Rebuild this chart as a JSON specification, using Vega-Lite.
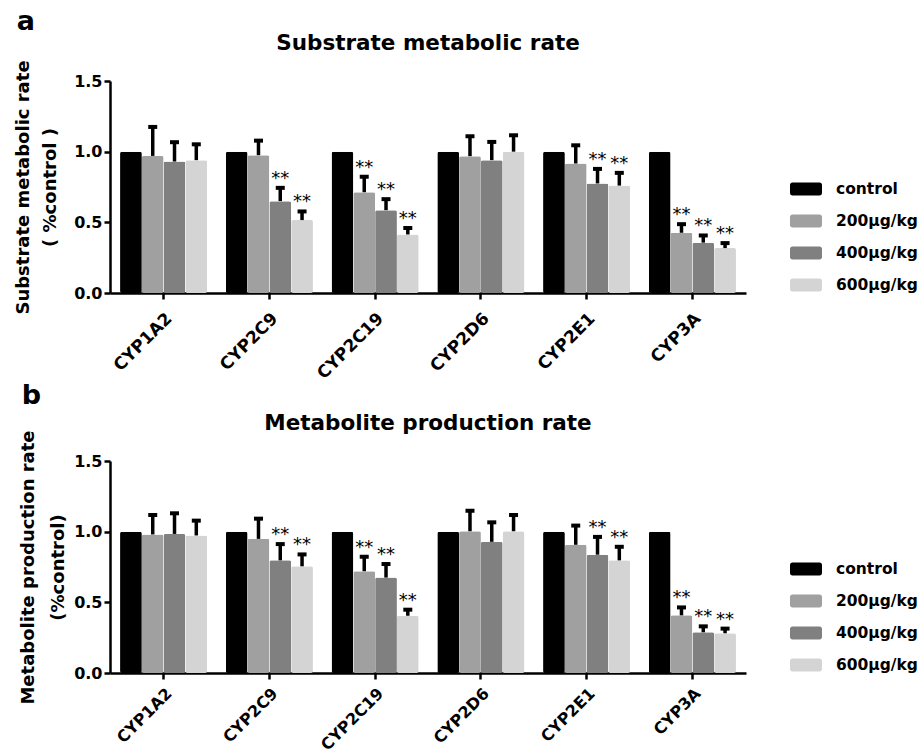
{
  "$schema": "https://vega.github.io/schema/vega-lite/v6.json",
  "background": "white",
  "padding": {"left": 14, "top": 8, "right": 2, "bottom": 0},
  "config": {
    "font": "DejaVu Sans",
    "view": {"stroke": null},
    "axis": {"grid": false, "domainColor": "black", "domainWidth": 2.5, "tickColor": "black", "tickWidth": 2.5, "tickSize": 6, "labelFont": "DejaVu Sans", "labelFontWeight": "bold", "labelFontSize": 16, "labelColor": "black", "titleFont": "DejaVu Sans", "titleFontWeight": "bold", "titleFontSize": 18, "titleColor": "black"},
    "legend": {"labelFont": "DejaVu Sans", "labelFontWeight": "bold", "labelFontSize": 15.5, "labelColor": "black", "padding": 0}
  },
  "datasets": {
    "a": [
      {"cyp": "CYP1A2", "group": "control", "mean": 1.0, "upper": null, "sig": ""},
      {"cyp": "CYP1A2", "group": "200µg/kg", "mean": 0.97, "upper": 1.175, "sig": ""},
      {"cyp": "CYP1A2", "group": "400µg/kg", "mean": 0.93, "upper": 1.067, "sig": ""},
      {"cyp": "CYP1A2", "group": "600µg/kg", "mean": 0.94, "upper": 1.052, "sig": ""},
      {"cyp": "CYP2C9", "group": "control", "mean": 1.0, "upper": null, "sig": ""},
      {"cyp": "CYP2C9", "group": "200µg/kg", "mean": 0.975, "upper": 1.078, "sig": ""},
      {"cyp": "CYP2C9", "group": "400µg/kg", "mean": 0.65, "upper": 0.744, "sig": "**"},
      {"cyp": "CYP2C9", "group": "600µg/kg", "mean": 0.516, "upper": 0.577, "sig": "**"},
      {"cyp": "CYP2C19", "group": "control", "mean": 1.0, "upper": null, "sig": ""},
      {"cyp": "CYP2C19", "group": "200µg/kg", "mean": 0.713, "upper": 0.822, "sig": "**"},
      {"cyp": "CYP2C19", "group": "400µg/kg", "mean": 0.586, "upper": 0.664, "sig": "**"},
      {"cyp": "CYP2C19", "group": "600µg/kg", "mean": 0.414, "upper": 0.46, "sig": "**"},
      {"cyp": "CYP2D6", "group": "control", "mean": 1.0, "upper": null, "sig": ""},
      {"cyp": "CYP2D6", "group": "200µg/kg", "mean": 0.968, "upper": 1.109, "sig": ""},
      {"cyp": "CYP2D6", "group": "400µg/kg", "mean": 0.94, "upper": 1.069, "sig": ""},
      {"cyp": "CYP2D6", "group": "600µg/kg", "mean": 1.0, "upper": 1.116, "sig": ""},
      {"cyp": "CYP2E1", "group": "control", "mean": 1.0, "upper": null, "sig": ""},
      {"cyp": "CYP2E1", "group": "200µg/kg", "mean": 0.916, "upper": 1.045, "sig": ""},
      {"cyp": "CYP2E1", "group": "400µg/kg", "mean": 0.775, "upper": 0.878, "sig": "**"},
      {"cyp": "CYP2E1", "group": "600µg/kg", "mean": 0.76, "upper": 0.85, "sig": "**"},
      {"cyp": "CYP3A", "group": "control", "mean": 1.0, "upper": null, "sig": ""},
      {"cyp": "CYP3A", "group": "200µg/kg", "mean": 0.426, "upper": 0.487, "sig": "**"},
      {"cyp": "CYP3A", "group": "400µg/kg", "mean": 0.356, "upper": 0.407, "sig": "**"},
      {"cyp": "CYP3A", "group": "600µg/kg", "mean": 0.318, "upper": 0.353, "sig": "**"}
    ],
    "b": [
      {"cyp": "CYP1A2", "group": "control", "mean": 1.0, "upper": null, "sig": ""},
      {"cyp": "CYP1A2", "group": "200µg/kg", "mean": 0.98, "upper": 1.118, "sig": ""},
      {"cyp": "CYP1A2", "group": "400µg/kg", "mean": 0.984, "upper": 1.13, "sig": ""},
      {"cyp": "CYP1A2", "group": "600µg/kg", "mean": 0.973, "upper": 1.078, "sig": ""},
      {"cyp": "CYP2C9", "group": "control", "mean": 1.0, "upper": null, "sig": ""},
      {"cyp": "CYP2C9", "group": "200µg/kg", "mean": 0.949, "upper": 1.092, "sig": ""},
      {"cyp": "CYP2C9", "group": "400µg/kg", "mean": 0.797, "upper": 0.912, "sig": "**"},
      {"cyp": "CYP2C9", "group": "600µg/kg", "mean": 0.755, "upper": 0.839, "sig": "**"},
      {"cyp": "CYP2C19", "group": "control", "mean": 1.0, "upper": null, "sig": ""},
      {"cyp": "CYP2C19", "group": "200µg/kg", "mean": 0.72, "upper": 0.823, "sig": "**"},
      {"cyp": "CYP2C19", "group": "400µg/kg", "mean": 0.675, "upper": 0.771, "sig": "**"},
      {"cyp": "CYP2C19", "group": "600µg/kg", "mean": 0.405, "upper": 0.448, "sig": "**"},
      {"cyp": "CYP2D6", "group": "control", "mean": 1.0, "upper": null, "sig": ""},
      {"cyp": "CYP2D6", "group": "200µg/kg", "mean": 1.003, "upper": 1.148, "sig": ""},
      {"cyp": "CYP2D6", "group": "400µg/kg", "mean": 0.928, "upper": 1.066, "sig": ""},
      {"cyp": "CYP2D6", "group": "600µg/kg", "mean": 1.003, "upper": 1.118, "sig": ""},
      {"cyp": "CYP2E1", "group": "control", "mean": 1.0, "upper": null, "sig": ""},
      {"cyp": "CYP2E1", "group": "200µg/kg", "mean": 0.907, "upper": 1.043, "sig": ""},
      {"cyp": "CYP2E1", "group": "400µg/kg", "mean": 0.837, "upper": 0.963, "sig": "**"},
      {"cyp": "CYP2E1", "group": "600µg/kg", "mean": 0.797, "upper": 0.893, "sig": "**"},
      {"cyp": "CYP3A", "group": "control", "mean": 1.0, "upper": null, "sig": ""},
      {"cyp": "CYP3A", "group": "200µg/kg", "mean": 0.408, "upper": 0.464, "sig": "**"},
      {"cyp": "CYP3A", "group": "400µg/kg", "mean": 0.288, "upper": 0.33, "sig": "**"},
      {"cyp": "CYP3A", "group": "600µg/kg", "mean": 0.281, "upper": 0.314, "sig": "**"}
    ]
  },
  "spacing": 0,
  "resolve": {"scale": {"color": "independent"}, "legend": {"color": "independent"}},
  "vconcat": [
    {
      "title": {"text": "a", "anchor": "start", "frame": "bounds", "fontSize": 27, "fontWeight": "bold", "font": "DejaVu Sans", "color": "black", "offset": -3, "dx": 2},
      "resolve": {"scale": {"color": "independent"}, "legend": {"color": "independent"}},
      "vconcat": [
        {
          "width": 636,
          "height": 212,
          "title": {"text": "Substrate metabolic rate", "anchor": "middle", "frame": "group", "fontSize": 21.5, "fontWeight": "bold", "font": "DejaVu Sans", "color": "black", "offset": 5},
          "data": {"name": "a"},
          "encoding": {
            "x": {"field": "cyp", "type": "nominal", "sort": ["CYP1A2", "CYP2C9", "CYP2C19", "CYP2D6", "CYP2E1", "CYP3A"], "scale": {"paddingInner": 0.176, "paddingOuter": 0.095}, "axis": {"title": null, "labelAngle": -45, "labelPadding": 11, "labelFontSize": 17}},
            "xOffset": {"field": "group", "type": "nominal", "sort": ["control", "200µg/kg", "400µg/kg", "600µg/kg"], "scale": {"paddingInner": 0, "paddingOuter": 0}}
          },
          "layer": [
            {
              "mark": {"type": "bar", "cornerRadius": 2},
              "encoding": {
                "y": {"field": "mean", "type": "quantitative", "scale": {"domain": [0, 1.5], "nice": false}, "axis": {"values": [0, 0.5, 1, 1.5], "format": ".1f", "title": ["Substrate metabolic rate", "( %control )"], "titleLineHeight": 27, "titlePadding": 14, "labelPadding": 2}},
                "color": {"field": "group", "type": "nominal", "sort": ["control", "200µg/kg", "400µg/kg", "600µg/kg"], "scale": {"domain": ["control", "200µg/kg", "400µg/kg", "600µg/kg"], "range": ["#000000", "#a0a0a0", "#808080", "#d4d4d4"]}, "legend": {"title": null, "orient": "none", "legendX": 680, "legendY": 92, "symbolType": "M-0.85,-0.406H0.85A0.15,0.15 0 0 1 1,-0.256V0.256A0.15,0.15 0 0 1 0.85,0.406H-0.85A0.15,0.15 0 0 1 -1,0.256V-0.256A0.15,0.15 0 0 1 -0.85,-0.406Z", "symbolSize": 1024, "symbolStrokeWidth": 0, "symbolOpacity": 1, "labelOffset": 14, "rowPadding": 7}}
              }
            },
            {
              "transform": [{"filter": "datum.upper != null"}],
              "mark": {"type": "rule", "color": "black", "strokeWidth": 3.5},
              "encoding": {"y": {"field": "mean", "type": "quantitative"}, "y2": {"field": "upper"}}
            },
            {
              "transform": [{"filter": "datum.upper != null"}],
              "mark": {"type": "tick", "color": "black", "thickness": 4, "size": 9, "orient": "horizontal", "opacity": 1},
              "encoding": {"y": {"field": "upper", "type": "quantitative"}}
            },
            {
              "transform": [{"filter": "datum.upper != null"}],
              "mark": {"type": "text", "fill": "black", "color": "black", "fontSize": 18, "font": "DejaVu Sans", "baseline": "alphabetic", "dy": -4},
              "encoding": {"y": {"field": "upper", "type": "quantitative"}, "text": {"field": "sig"}}
            }
          ]
        }
      ]
    },
    {
      "title": {"text": "b", "anchor": "start", "frame": "bounds", "fontSize": 27, "fontWeight": "bold", "font": "DejaVu Sans", "color": "black", "offset": 3, "dx": 2},
      "resolve": {"scale": {"color": "independent"}, "legend": {"color": "independent"}},
      "vconcat": [
        {
          "width": 636,
          "height": 212,
          "title": {"text": "Metabolite production rate", "anchor": "middle", "frame": "group", "fontSize": 21.5, "fontWeight": "bold", "font": "DejaVu Sans", "color": "black", "offset": -5},
          "data": {"name": "b"},
          "encoding": {
            "x": {"field": "cyp", "type": "nominal", "sort": ["CYP1A2", "CYP2C9", "CYP2C19", "CYP2D6", "CYP2E1", "CYP3A"], "scale": {"paddingInner": 0.176, "paddingOuter": 0.095}, "axis": {"title": null, "labelAngle": -45, "labelPadding": 6, "labelFontSize": 16}},
            "xOffset": {"field": "group", "type": "nominal", "sort": ["control", "200µg/kg", "400µg/kg", "600µg/kg"], "scale": {"paddingInner": 0, "paddingOuter": 0}}
          },
          "layer": [
            {
              "mark": {"type": "bar", "cornerRadius": 2},
              "encoding": {
                "y": {"field": "mean", "type": "quantitative", "scale": {"domain": [0, 1.5], "nice": false}, "axis": {"values": [0, 0.5, 1, 1.5], "format": ".1f", "title": ["Metabolite production rate", "(%control)"], "titleLineHeight": 30, "titlePadding": 6, "labelPadding": 2}},
                "color": {"field": "group", "type": "nominal", "sort": ["control", "200µg/kg", "400µg/kg", "600µg/kg"], "scale": {"domain": ["control", "200µg/kg", "400µg/kg", "600µg/kg"], "range": ["#000000", "#a0a0a0", "#808080", "#d4d4d4"]}, "legend": {"title": null, "orient": "none", "legendX": 680, "legendY": 92, "symbolType": "M-0.85,-0.406H0.85A0.15,0.15 0 0 1 1,-0.256V0.256A0.15,0.15 0 0 1 0.85,0.406H-0.85A0.15,0.15 0 0 1 -1,0.256V-0.256A0.15,0.15 0 0 1 -0.85,-0.406Z", "symbolSize": 1024, "symbolStrokeWidth": 0, "symbolOpacity": 1, "labelOffset": 14, "rowPadding": 7}}
              }
            },
            {
              "transform": [{"filter": "datum.upper != null"}],
              "mark": {"type": "rule", "color": "black", "strokeWidth": 3.5},
              "encoding": {"y": {"field": "mean", "type": "quantitative"}, "y2": {"field": "upper"}}
            },
            {
              "transform": [{"filter": "datum.upper != null"}],
              "mark": {"type": "tick", "color": "black", "thickness": 4, "size": 9, "orient": "horizontal", "opacity": 1},
              "encoding": {"y": {"field": "upper", "type": "quantitative"}}
            },
            {
              "transform": [{"filter": "datum.upper != null"}],
              "mark": {"type": "text", "fill": "black", "color": "black", "fontSize": 18, "font": "DejaVu Sans", "baseline": "alphabetic", "dy": -4},
              "encoding": {"y": {"field": "upper", "type": "quantitative"}, "text": {"field": "sig"}}
            }
          ]
        }
      ]
    }
  ]
}
